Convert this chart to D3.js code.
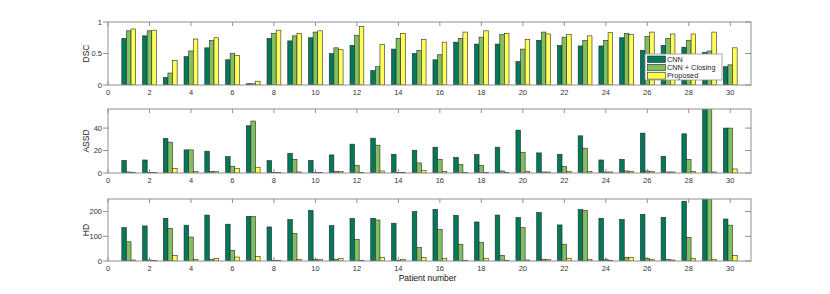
<!DOCTYPE html>
<html>
<head>
<meta charset="utf-8">
<script src="https://cdn.jsdelivr.net/npm/d3@7"></script>
<style>
  body { margin: 0; background: #fff; }
  text { font-family: "Liberation Sans", Arial, sans-serif; }
</style>
</head>
<body>
<div id="chart"></div>
<script>
// patients 1..30
const patients = d3.range(1, 31)
const seriesNames = ["CNN", "CNN + Closing", "Proposed"]
const colors = ["#00785a", "#80c060", "#ffff55"]

const dscCnn =     [0.74,0.78,0.12,0.45,0.59,0.40,0.02,0.74,0.70,0.75,0.50,0.63,0.23,0.57,0.50,0.40,0.68,0.65,0.65,0.37,0.71,0.63,0.62,0.62,0.75,0.55,0.63,0.60,0.52,0.29]
const dscClosing = [0.86,0.86,0.19,0.54,0.71,0.50,0.02,0.82,0.78,0.84,0.59,0.79,0.29,0.74,0.55,0.48,0.74,0.76,0.80,0.57,0.84,0.76,0.71,0.71,0.82,0.77,0.74,0.71,0.54,0.32]
const dscProposed =[0.89,0.87,0.39,0.73,0.75,0.47,0.06,0.87,0.82,0.86,0.56,0.93,0.64,0.82,0.72,0.68,0.84,0.86,0.82,0.72,0.81,0.80,0.78,0.83,0.80,0.84,0.81,0.81,0.84,0.59]

const assdCnn =     [11.3,11.6,30.7,20.6,19.4,14.6,42.1,11.0,17.6,11.3,16.1,25.7,31.0,16.7,20.3,23.0,14.0,16.4,23.0,38.2,17.9,16.7,33.1,11.6,12.2,35.5,14.9,34.9,62,40.0]
const assdClosing = [0.9,0.6,27.5,20.6,1.5,6.0,46.3,0.6,12.2,0.6,1.5,6.9,24.8,0.6,9.0,12.2,7.5,6.9,1.8,18.5,0.9,6.0,22.1,0.9,1.8,1.8,0.9,12.2,62,40.0]
const assdProposed =[0.6,0.6,4.2,1.5,1.5,4.2,5.1,0.6,0.9,0.6,1.5,0.6,1.8,0.6,2.4,1.5,0.6,0.6,0.6,1.5,0.9,1.5,1.2,0.9,1.5,1.5,0.9,1.5,0.9,3.6]

const hdCnn =     [135,142,173,145,186,149,181,138,168,205,143,172,173,153,200,209,185,158,186,176,196,146,208,173,168,189,177,242,260,170]
const hdClosing = [78,4,132,97,7,43,180,3,112,7,7,88,166,3,55,127,68,76,23,135,7,68,205,7,15,11,7,96,258,145]
const hdProposed =[4,1.5,23,7,11,16,19,3,7,7,11,3,15,7,15,11,3,11,3,4,7,11,7,3,15,7,4,11,7,23]

const panels = [
  { label: "DSC",  series: [dscCnn, dscClosing, dscProposed],    max: 1,   ticks: [0, 0.5, 1],   top: 22,  bottom: 85 },
  { label: "ASSD", series: [assdCnn, assdClosing, assdProposed], max: 57,  ticks: [0, 20, 40],   top: 109, bottom: 173 },
  { label: "HD",   series: [hdCnn, hdClosing, hdProposed],       max: 251, ticks: [0, 100, 200], top: 199, bottom: 261 }
]
const xTicks = d3.range(0, 31, 2)

const width = 830, height = 294
const left = 108, right = 751
const frameColor = "#909090", textColor = "#333"

const x = d3.scaleLinear().domain([0, 31]).range([left, right])
const groupW = 2 / 3
const barW = x(groupW / 3) - x(0)

const svg = d3.select("#chart").append("svg")
  .attr("width", width).attr("height", height)

panels.forEach((p, pi) => {
  const y = d3.scaleLinear().domain([0, p.max]).range([p.bottom, p.top])
  const g = svg.append("g")

  g.append("clipPath").attr("id", "clip" + pi)
    .append("rect").attr("x", left).attr("y", p.top)
    .attr("width", right - left).attr("height", p.bottom - p.top)

  // frame background
  g.append("rect").attr("x", left).attr("y", p.top)
    .attr("width", right - left).attr("height", p.bottom - p.top)
    .attr("fill", "#fff")

  // top ticks (inward)
  g.selectAll(".tt").data(xTicks).enter().append("line")
    .attr("x1", d => x(d)).attr("x2", d => x(d))
    .attr("y1", p.top).attr("y2", p.top + 4)
    .attr("stroke", frameColor).attr("stroke-width", 1)

  // bottom ticks (inward, mostly behind bars)
  g.selectAll(".bt").data(xTicks).enter().append("line")
    .attr("x1", d => x(d)).attr("x2", d => x(d))
    .attr("y1", p.bottom).attr("y2", p.bottom - 4)
    .attr("stroke", frameColor).attr("stroke-width", 1)

  // right ticks inward, left ticks outward
  g.selectAll(".rt").data(p.ticks).enter().append("line")
    .attr("x1", right - 6).attr("x2", right)
    .attr("y1", d => y(d)).attr("y2", d => y(d))
    .attr("stroke", frameColor)
  g.selectAll(".lt").data(p.ticks).enter().append("line")
    .attr("x1", left - 5).attr("x2", left)
    .attr("y1", d => y(d)).attr("y2", d => y(d))
    .attr("stroke", frameColor)

  // bars
  const bars = g.append("g").attr("clip-path", "url(#clip" + pi + ")")
  p.series.forEach((vals, si) => {
    bars.selectAll(".b" + si).data(vals).enter().append("rect")
      .attr("x", (d, i) => x(patients[i] - groupW / 2 + si * groupW / 3))
      .attr("width", barW)
      .attr("y", d => y(d))
      .attr("height", d => p.bottom - y(d))
      .attr("fill", colors[si])
      .attr("stroke", "#2a2a2a")
      .attr("stroke-width", 0.6)
  })

  // frame
  g.append("rect").attr("x", left).attr("y", p.top)
    .attr("width", right - left).attr("height", p.bottom - p.top)
    .attr("fill", "none").attr("stroke", frameColor).attr("stroke-width", 1)

  // y tick labels
  g.selectAll(".yl").data(p.ticks).enter().append("text")
    .attr("x", left - 6).attr("y", d => y(d)).attr("dy", "0.35em")
    .attr("text-anchor", "end").attr("font-size", 7.5).attr("fill", textColor)
    .text(d => d)

  // x tick labels
  g.selectAll(".xl").data(xTicks).enter().append("text")
    .attr("x", d => x(d)).attr("y", p.bottom + 10)
    .attr("text-anchor", "middle").attr("font-size", 7.5).attr("fill", textColor)
    .text(d => d)

  // y label
  g.append("text")
    .attr("transform", "translate(89," + (p.top + p.bottom) / 2 + ") rotate(-90)")
    .attr("text-anchor", "middle").attr("font-size", 8.5).attr("fill", "#222")
    .text(p.label)
})

svg.append("text")
  .attr("x", (left + right) / 2 - 2).attr("y", 281)
  .attr("text-anchor", "middle").attr("font-size", 8.5).attr("fill", "#111")
  .text("Patient number")

// legend
const lg = svg.append("g").attr("transform", "translate(645,54)")
lg.append("rect").attr("width", 77).attr("height", 26)
  .attr("fill", "#fff").attr("stroke", frameColor).attr("stroke-width", 0.8)
seriesNames.forEach((name, i) => {
  lg.append("rect").attr("x", 2.5).attr("y", 2 + i * 8.3)
    .attr("width", 18).attr("height", 6.5)
    .attr("fill", colors[i]).attr("stroke", "#2a2a2a").attr("stroke-width", 0.6)
  lg.append("text").attr("x", 22).attr("y", 5.3 + i * 8.3).attr("dy", "0.35em")
    .attr("font-size", 7.3).attr("fill", "#222")
    .text(name)
})
</script>
</body>
</html>
